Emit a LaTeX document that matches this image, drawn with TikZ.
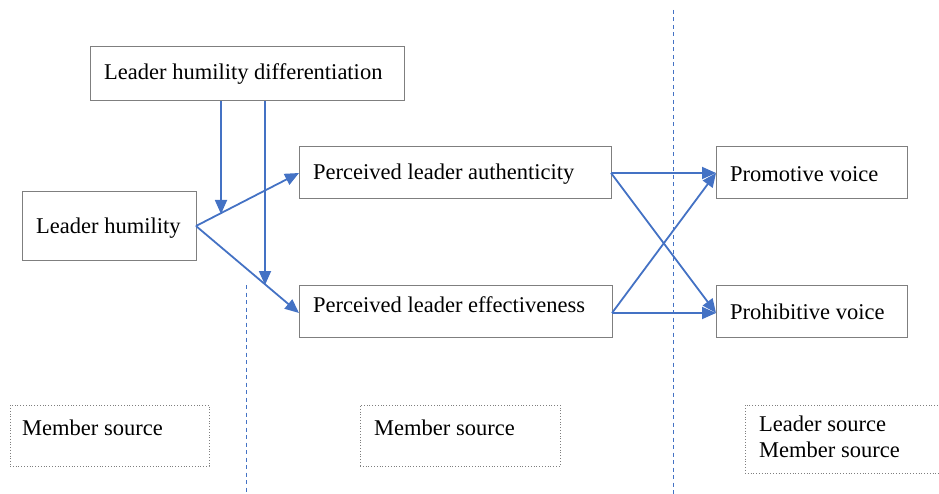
\documentclass[tikz,border=0pt]{standalone}
\usepackage{fontspec}
\setmainfont{Liberation Serif}
\usetikzlibrary{arrows.meta}
\definecolor{ablue}{HTML}{4472C4}
\definecolor{bgray}{HTML}{7F7F7F}
\begin{document}
\begin{tikzpicture}[x=1pt,y=-1pt,
  box/.style={draw=bgray,line width=1pt,anchor=north west,inner sep=0pt,outer sep=0pt},
  src/.style={draw=bgray,line width=0.8pt,dotted,anchor=north west,inner sep=0pt,outer sep=0pt},
  lbl/.style={anchor=west,inner sep=0pt,font=\fontsize{22.5}{25.5}\selectfont},
  arr/.style={draw=ablue,line width=1.8pt,-{Triangle[length=14pt,width=12pt]}},
  sep/.style={draw=ablue,line width=1pt,dash pattern=on 4pt off 3.5pt}]
\useasboundingbox (0,0) rectangle (939,494);
% boxes
\node[box,minimum width=314,minimum height=54] (diff) at (90,47) {};
\node[lbl] at (104,74) {Leader humility differentiation};
\node[box,minimum width=174,minimum height=69] (lh) at (22,192) {};
\node[lbl] at (36,228) {Leader humility};
\node[box,minimum width=312,minimum height=52] (auth) at (299,147) {};
\node[lbl] at (313,174) {Perceived leader authenticity};
\node[box,minimum width=313,minimum height=52] (eff) at (299,285) {};
\node[lbl] at (313,305) {Perceived leader effectiveness};
\node[box,minimum width=191,minimum height=52] (prom) at (716,147) {};
\node[lbl] at (730,174) {Promotive voice};
\node[box,minimum width=191,minimum height=52] (proh) at (716,285) {};
\node[lbl] at (730,312) {Prohibitive voice};
% source boxes
\node[src,minimum width=199,minimum height=61] (s1) at (10,405) {};
\node[lbl] at (22,428) {Member source};
\node[src,minimum width=200,minimum height=61] (s2) at (360,405) {};
\node[lbl] at (374,428) {Member source};
\node[src,minimum width=194,minimum height=68] (s3) at (745,405) {};
\node[lbl,align=left,anchor=north west] at (759,416) {Leader source\\Member source};
% separators
\coordinate (d1a) at (246,285); \coordinate (d1b) at (246,494);
\coordinate (d2a) at (673,10); \coordinate (d2b) at (673,494);
\draw[sep] (d1a) -- (d1b);
\draw[sep] (d2a) -- (d2b);
% arrows
\coordinate (lhr) at (196,226);
\coordinate (authl) at (299,173);
\coordinate (effl) at (299,313);
\draw[arr] (lhr) -- (authl);
\draw[arr] (lhr) -- (effl);
\coordinate (m1s) at (221,101); \coordinate (m1e) at (221,214);
\coordinate (m2s) at (265,101); \coordinate (m2e) at (265,285);
\draw[arr] (m1s) -- (m1e);
\draw[arr] (m2s) -- (m2e);
\coordinate (authr) at (611,173);
\coordinate (effr) at (612,313);
\coordinate (proml) at (716,173);
\coordinate (prohl) at (716,313);
\draw[arr] (authr) -- (proml);
\draw[arr] (authr) -- (prohl);
\draw[arr] (effr) -- (prohl);
\draw[arr] (effr) -- (proml);
\end{tikzpicture}
\end{document}
